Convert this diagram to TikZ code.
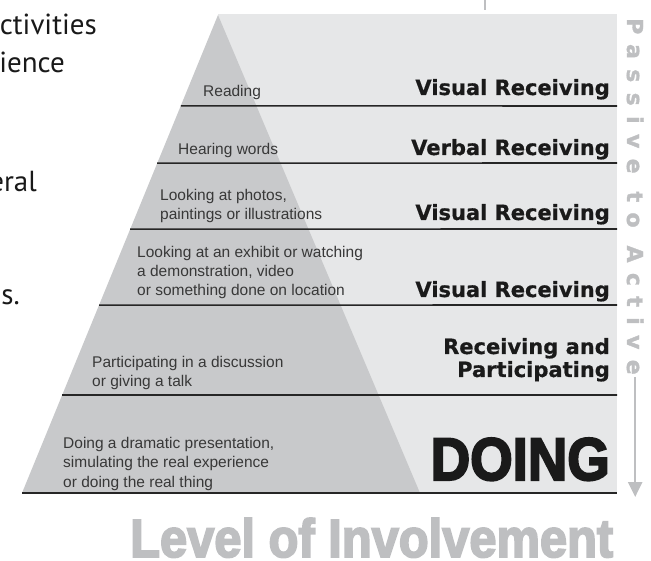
\documentclass[tikz,border=0pt]{standalone}
\usepackage{fontspec}
\setmainfont{Liberation Sans}
\newfontfamily\blackfont{DejaVu Sans}[FakeBold=0.6]
\newfontfamily\sidefont{DejaVu Sans}[LetterSpace=47, FakeBold=1.6]
\newfontfamily\titlefont{Liberation Sans Bold}[FakeBold=3.5]
\newfontfamily\bodyfont{PT Sans}
\usetikzlibrary{positioning, calc, arrows.meta}
\definecolor{pyrgray}{HTML}{C8C9CB}
\definecolor{bggray}{HTML}{E6E7E8}
\definecolor{sidegray}{HTML}{BEBFC1}
\definecolor{stagetext}{HTML}{383838}
\definecolor{kindtext}{HTML}{1A1A1A}

\begin{document}
\begin{tikzpicture}[x=1pt, y=-1pt,
  stage/.style={anchor=base west, align=left, inner sep=0pt, text=stagetext, font=\fontsize{15.5}{19.3}\selectfont},
  kind/.style={anchor=base east, align=right, inner sep=0pt, text=kindtext, font=\blackfont\bfseries\fontsize{21}{23}\selectfont},
  margin/.style={anchor=base east, inner sep=0pt, text=black!90, font=\bodyfont\fontsize{29}{38}\selectfont},
  divider/.style={line width=1.6pt, draw=black!85},
  sideline/.style={line width=2.5pt, draw=sidegray, -{Triangle[length=15pt, width=14pt]}}
]
    \useasboundingbox (0,0) rectangle (651,561);

    % Background and pyramid
    \coordinate (apex) at (218,15);
    \coordinate (baseL) at (22,493);
    \coordinate (baseR) at (420,493);
    \fill[bggray] (218,14) rectangle (617,493);
    \fill[pyrgray] (apex) -- (baseL) -- (baseR) -- cycle;
    \draw[sidegray, line width=1.5pt] (485,0) -- (485,10);

    % Dividers
    \draw[divider] ($(apex)!0.190!(baseL)$) -- (617,106);
    \draw[divider] ($(apex)!0.310!(baseL)$) -- (617,163);
    \draw[divider] ($(apex)!0.448!(baseL)$) -- (617,229);
    \draw[divider] ($(apex)!0.607!(baseL)$) -- (617,305);
    \draw[divider] ($(apex)!0.795!(baseL)$) -- (617,395);
    \draw[divider] (baseL) -- (617,493);

    % Stages (base = last line)
    \node[stage] (s1) at (203,97) {Reading};
    \node[stage] (s2) at (178,155) {Hearing words};
    \node[stage] (s3) at (160,220) {Looking at photos,\\paintings or illustrations};
    \node[stage] (s4) at (137,296) {Looking at an exhibit or watching\\a demonstration, video\\or something done on location};
    \node[stage] (s5) at (92,387) {Participating in a discussion\\or giving a talk};
    \node[stage] (s6) at (63,487) {Doing a dramatic presentation,\\simulating the real experience\\or doing the real thing};

    % Kinds
    \node[kind] (k1) at (610,95) {Visual Receiving};
    \node[kind] (k2) at (610,155) {Verbal Receiving};
    \node[kind] (k3) at (610,220) {Visual Receiving};
    \node[kind] (k4) at (610,297) {Visual Receiving};
    \node[kind] (k5) at (610,377) {Receiving and\\Participating};
    \node[kind, font=\titlefont] (k6) at (610,480) {\resizebox{179pt}{42pt}{DOING}};

    % Margin text
    \node[margin] (m1) at (97,35) {ctivities};
    \node[margin] (m2) at (65,73) {ience};
    \node[margin] (m3) at (37,192) {eral};
    \node[margin] (m4) at (20,305) {s.};

    % Passive to active
    \node[rotate=-90, anchor=base west, inner sep=0pt, text=sidegray, font=\sidefont\bfseries\fontsize{22}{23}\selectfont] (side) at (627,18) {Passive to Active};
    \coordinate (bottomref) at (0,497);
    \draw[sideline, shorten <=2pt] (side.east) -- (side.east |- bottomref);

    % Title
    \node[anchor=base west, inner sep=0pt, text=sidegray, font=\titlefont] (title) at (130,557) {\resizebox{483pt}{39pt}{Level of Involvement}};
\end{tikzpicture}
\end{document}
